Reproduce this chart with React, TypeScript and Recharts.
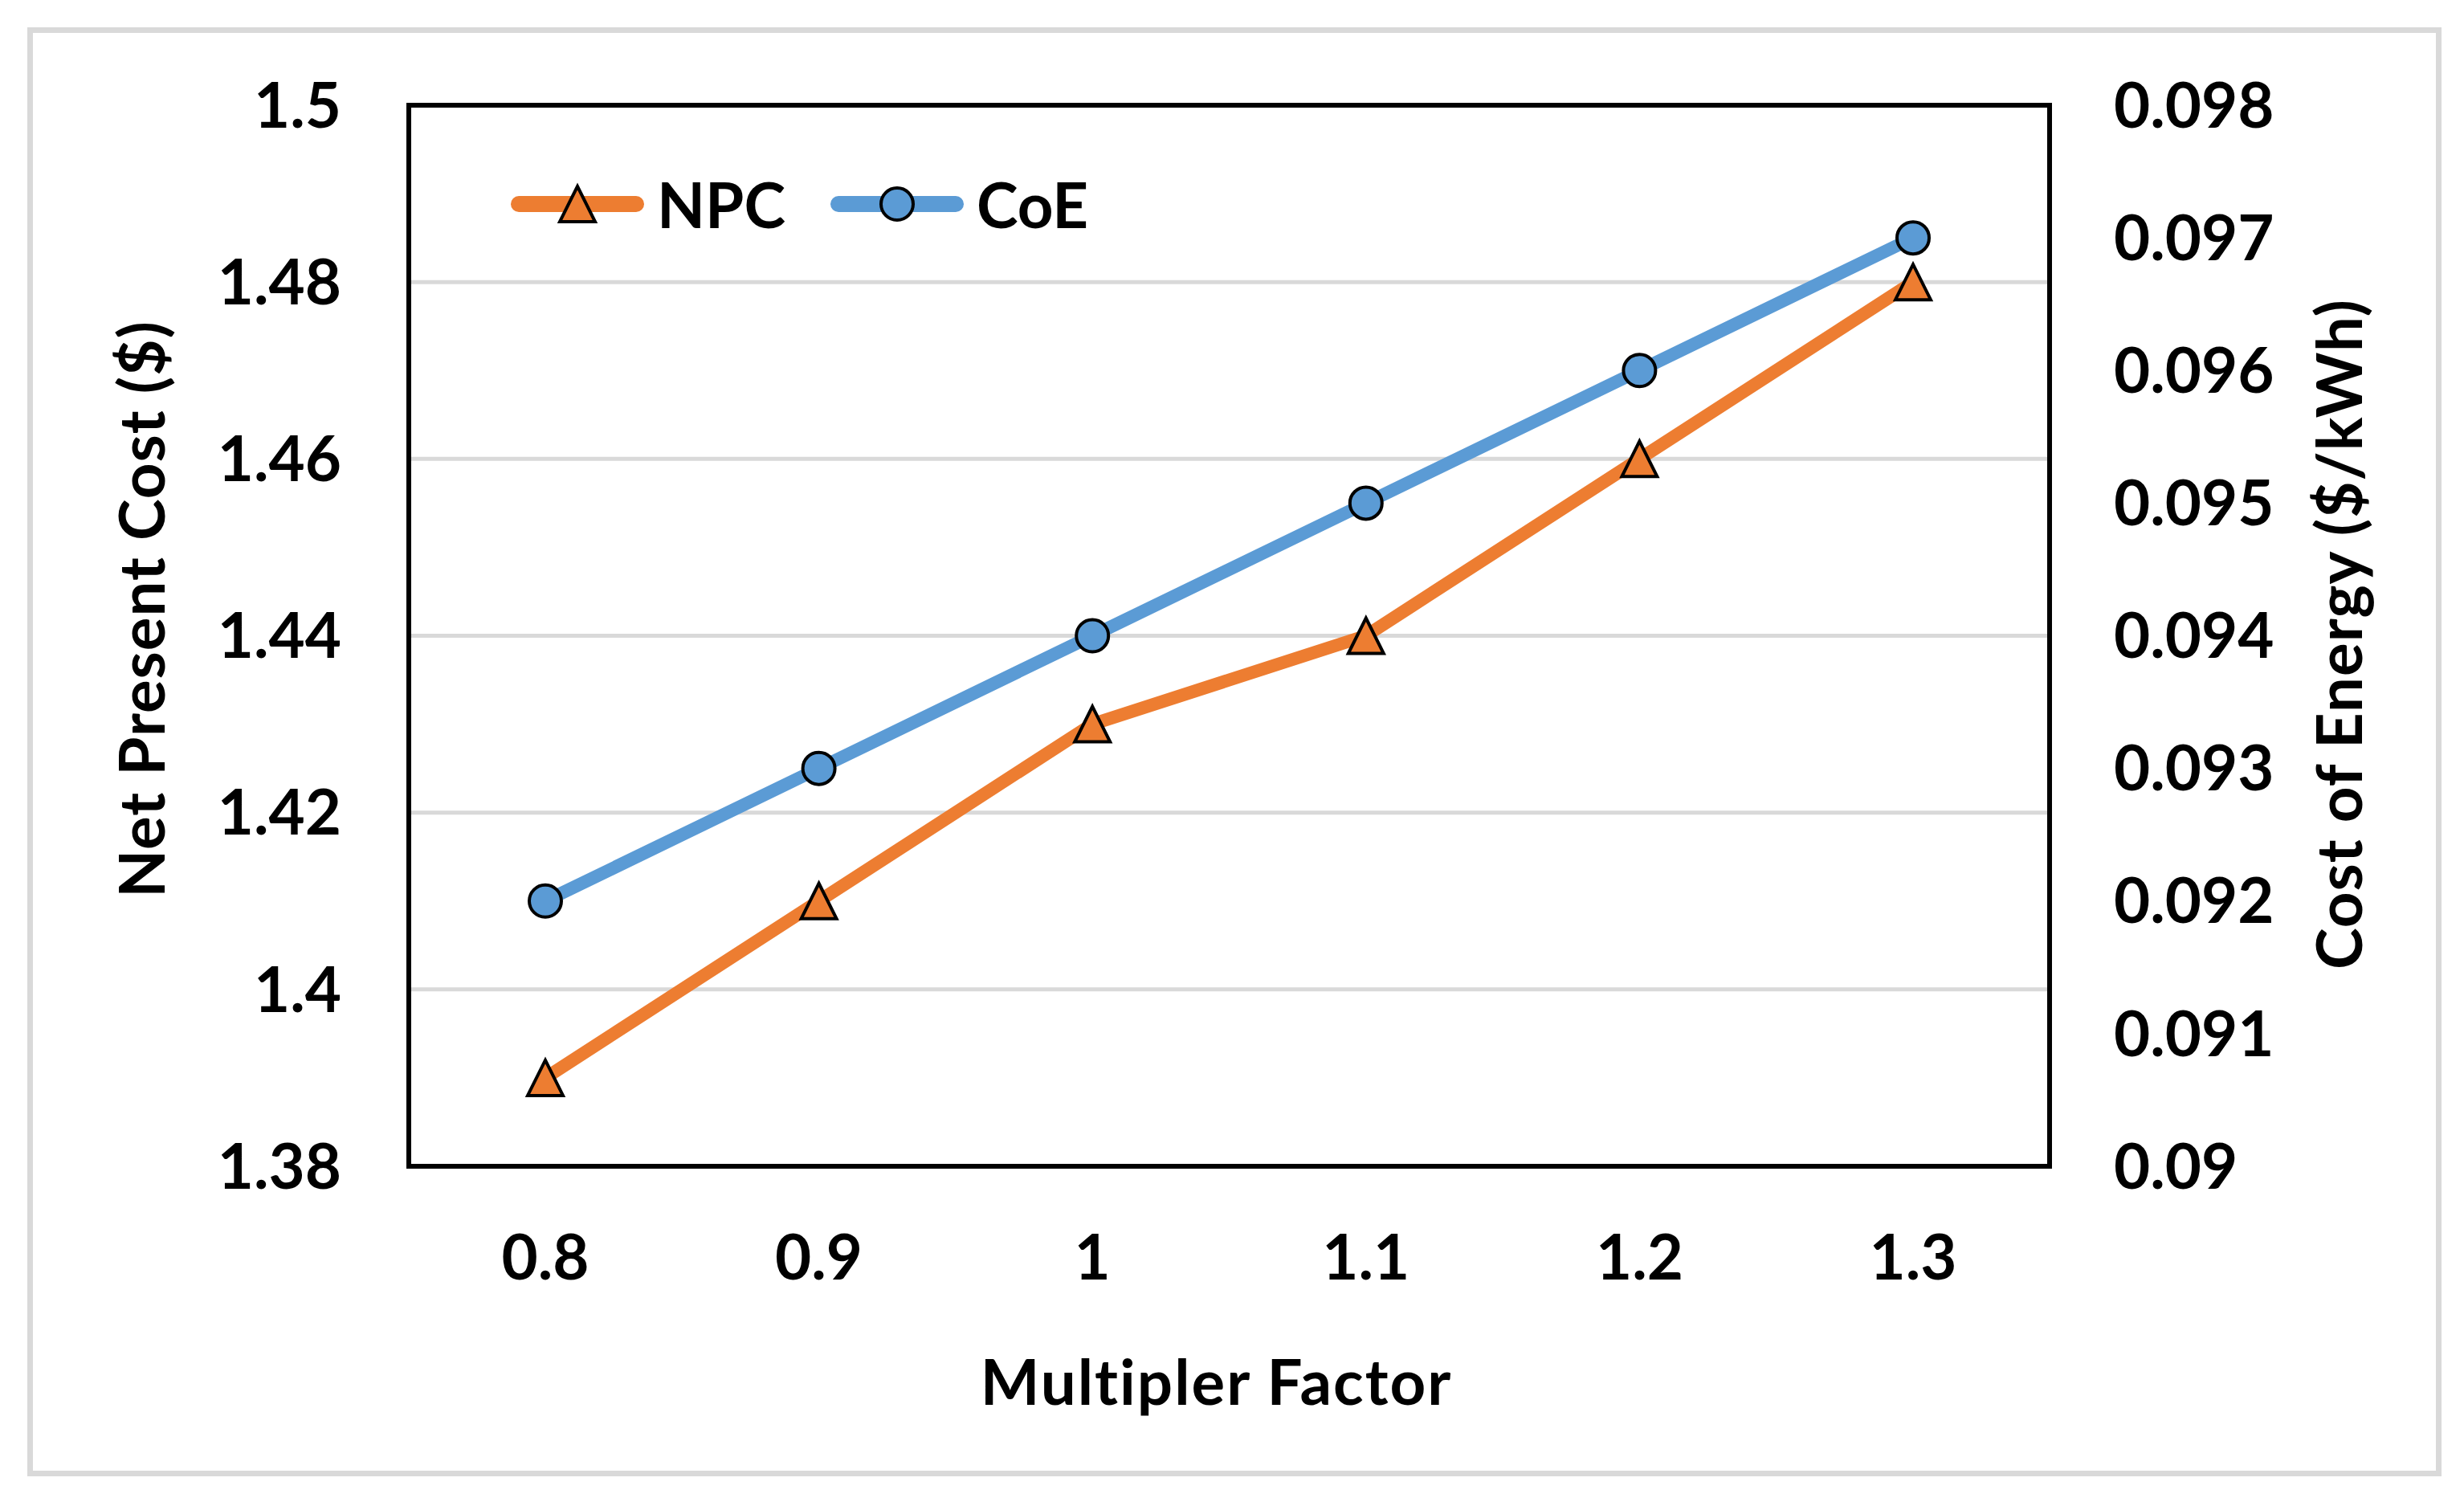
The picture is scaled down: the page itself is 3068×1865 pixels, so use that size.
import { LineChart, Line, XAxis, YAxis, CartesianGrid, Legend, ReferenceLine } from 'recharts';

const factors = ['0.8', '0.9', '1', '1.1', '1.2', '1.3'];
const npcValues = [1.39, 1.41, 1.43, 1.44, 1.46, 1.48];
const coeValues = [0.092, 0.093, 0.094, 0.095, 0.096, 0.097];
const npcTicks = [1.38, 1.4, 1.42, 1.44, 1.46, 1.48, 1.5];
const coeTicks = [0.09, 0.091, 0.092, 0.093, 0.094, 0.095, 0.096, 0.097, 0.098];

const data = factors.map((factor, i) => ({
  factor,
  npc: npcValues[i],
  coe: coeValues[i],
}));

const FONT = 'Lato, "Noto Sans", sans-serif';
const ORANGE = '#ED7D31';
const BLUE = '#5B9BD5';

const tickStyle = { fill: '#000', fontSize: 78, fontWeight: 700, fontFamily: FONT };
const titleStyle = { fill: '#000', fontSize: 78, fontWeight: 700, fontFamily: FONT };
const frame = { stroke: '#000', strokeWidth: 6, strokeLinecap: 'square' as const };

const fmt = (v: number) => String(Number(v.toFixed(4)));

const TriangleDot = (props: any) => {
  const { cx, cy, index } = props;
  if (cx == null || cy == null) return <g key={`t-${index}`} />;
  return (
    <path
      key={`t-${index}`}
      d={`M${cx},${cy - 22} L${cx + 22},${cy + 22} L${cx - 22},${cy + 22} Z`}
      fill={ORANGE}
      stroke="#000"
      strokeWidth={4}
      strokeLinejoin="miter"
    />
  );
};

const CircleDot = (props: any) => {
  const { cx, cy, index } = props;
  if (cx == null || cy == null) return <g key={`c-${index}`} />;
  return <circle key={`c-${index}`} cx={cx} cy={cy} r={20} fill={BLUE} stroke="#000" strokeWidth={4} />;
};

const series = [
  { name: 'NPC', color: ORANGE, marker: 'triangle' },
  { name: 'CoE', color: BLUE, marker: 'circle' },
];

const LegendContent = () => (
  <div style={{ display: 'flex', alignItems: 'center', fontFamily: FONT, fontSize: 78, fontWeight: 700, color: '#000', lineHeight: '80px' }}>
    {series.map((s, i) => (
      <div key={s.name} style={{ display: 'flex', alignItems: 'center', marginRight: i === 0 ? 56 : 0 }}>
        <svg width={166} height={80} style={{ marginRight: 16 }}>
          <line x1={10} y1={40} x2={156} y2={40} stroke={s.color} strokeWidth={20} strokeLinecap="round" />
          {s.marker === 'triangle' ? (
            <path d="M83,18 L105,62 L61,62 Z" fill={s.color} stroke="#000" strokeWidth={4} />
          ) : (
            <circle cx={83} cy={40} r={20} fill={s.color} stroke="#000" strokeWidth={4} />
          )}
        </svg>
        <span>{s.name}</span>
      </div>
    ))}
  </div>
);

const LeftTitle = (props: any) => {
  const vb = props.viewBox || { x: 0, y: 123, width: 501, height: 1321 };
  const x = vb.x + 197;
  const y = vb.y + vb.height / 2 - 33;
  return (
    <text x={x} y={y} transform={`rotate(-90, ${x}, ${y})`} textAnchor="middle" style={titleStyle} letterSpacing={1}>
      Net Present Cost ($)
    </text>
  );
};

const RightTitle = (props: any) => {
  const vb = props.viewBox || { x: 2544, y: 123, width: 508, height: 1321 };
  const x = vb.x + 389;
  const y = vb.y + vb.height / 2 - 2;
  return (
    <text x={x} y={y} transform={`rotate(-90, ${x}, ${y})`} textAnchor="middle" style={titleStyle} letterSpacing={1}>
      Cost of Energy ($/kWh)
    </text>
  );
};

const BottomTitle = (props: any) => {
  const vb = props.viewBox || { x: 501, y: 1444, width: 2043, height: 405 };
  return (
    <text x={vb.x + vb.width / 2 - 16} y={vb.y + 297} textAnchor="middle" style={titleStyle} letterSpacing={2}>
      Multipler Factor
    </text>
  );
};

export default function App() {
  return (
    <div style={{ position: 'relative', width: 3052, height: 1849, background: '#fff' }}>
      <div
        style={{
          position: 'absolute',
          left: 26,
          top: 26,
          width: 2992,
          height: 1790,
          border: '7px solid #d9d9d9',
          pointerEvents: 'none',
        }}
      />
      <LineChart width={3052} height={1849} data={data} margin={{ top: 123, right: 0, bottom: 0, left: 0 }}>
        <CartesianGrid yAxisId="left" vertical={false} stroke="#d9d9d9" strokeWidth={5} />
        <XAxis
          dataKey="factor"
          height={405}
          padding={{ left: 170, right: 170 }}
          tick={tickStyle}
          tickLine={false}
          tickSize={0}
          tickMargin={86}
          axisLine={frame}
          label={<BottomTitle />}
        />
        <YAxis
          yAxisId="left"
          width={501}
          domain={[1.38, 1.5]}
          ticks={npcTicks}
          tickFormatter={fmt}
          tick={tickStyle}
          tickLine={false}
          tickSize={0}
          tickMargin={84}
          interval={0}
          axisLine={frame}
          label={<LeftTitle />}
        />
        <YAxis
          yAxisId="right"
          orientation="right"
          width={508}
          domain={[0.09, 0.098]}
          ticks={coeTicks}
          tickFormatter={fmt}
          tick={{ ...tickStyle, textAnchor: 'start' }}
          tickLine={false}
          tickSize={0}
          tickMargin={80}
          interval={0}
          axisLine={frame}
          label={<RightTitle />}
        />
        <ReferenceLine yAxisId="left" y={1.5} stroke="#000" strokeWidth={6} strokeLinecap="square" />
        <Legend
          layout="horizontal"
          verticalAlign="middle"
          align="center"
          content={<LegendContent />}
          wrapperStyle={{ position: 'absolute', left: 628, top: 206, width: 'auto', height: 80 }}
        />
        <Line
          yAxisId="left"
          type="linear"
          dataKey="npc"
          name="NPC"
          stroke={ORANGE}
          strokeWidth={16}
          strokeLinecap="round"
          dot={TriangleDot}
          activeDot={false}
          isAnimationActive={false}
        />
        <Line
          yAxisId="right"
          type="linear"
          dataKey="coe"
          name="CoE"
          stroke={BLUE}
          strokeWidth={16}
          strokeLinecap="round"
          dot={CircleDot}
          activeDot={false}
          isAnimationActive={false}
        />
      </LineChart>
    </div>
  );
}
